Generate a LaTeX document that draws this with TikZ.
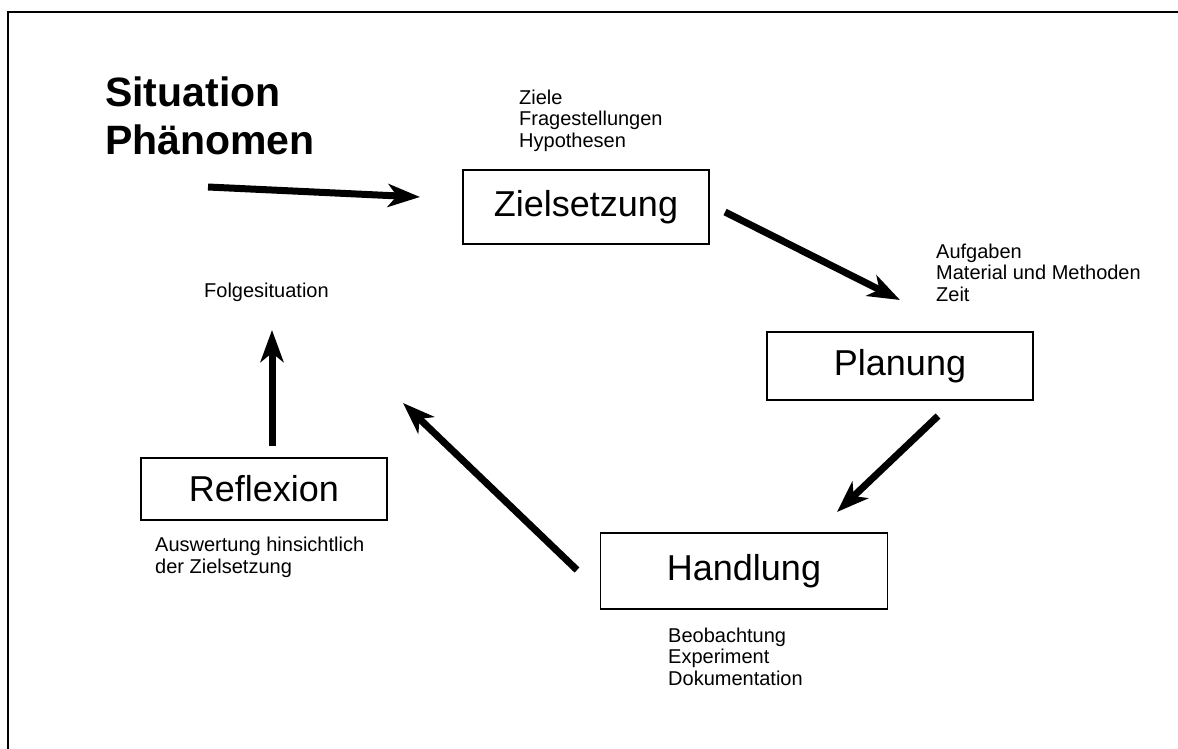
\documentclass[tikz,border=0pt]{standalone}
\usepackage{fontspec}
\setmainfont{Liberation Sans}
\usetikzlibrary{arrows.meta}

\tikzset{
  stufe/.style={draw, line width=1.5pt, inner sep=0pt, font=\fontsize{36}{40}\selectfont},
  notiz/.style={anchor=base west, align=left, inner sep=0pt, font=\fontsize{20}{21.5}\selectfont},
  pfeil/.style={line width=7pt, -{Stealth[length=32pt,width=23pt,inset=9pt]}}
}

\begin{document}
\begin{tikzpicture}[x=1pt,y=-1pt]
                \useasboundingbox (0,0) rectangle (1178,749);
                % Rahmen
                \draw[line width=2pt] (8,749) -- (8,12) -- (1178,12);

                % Ausgangssituation (base = letzte Zeile)
                \node[anchor=base west, align=left, inner sep=0pt,
                      font=\fontsize{41}{48}\selectfont\bfseries] (situation) at (105,155) {Situation\\Phänomen};

                % Stufen
                \node[stufe, minimum width=246pt, minimum height=74pt] (ziel) at (586,207) {Zielsetzung};
                \node[stufe, minimum width=266pt, minimum height=68pt] (plan) at (900,366) {Planung};
                \node[stufe, minimum width=287pt, minimum height=76pt] (hand) at (744,571) {Handlung};
                \node[stufe, minimum width=246pt, minimum height=62pt] (refl) at (264,489) {Reflexion};

                % Notizen
                \node[notiz] (zielnotiz) at (519,147) {Ziele\\Fragestellungen\\Hypothesen};
                \node[notiz] (plannotiz) at (936,301) {Aufgaben\\Material und Methoden\\Zeit};
                \node[notiz] (handnotiz) at (668,685) {Beobachtung\\Experiment\\Dokumentation};
                \node[notiz] (reflnotiz) at (155,573) {Auswertung hinsichtlich\\der Zielsetzung};
                \node[notiz] (folge) at (204,297) {Folgesituation};

                % Pfeile
                \coordinate (a1) at (208,187); \coordinate (b1) at (420,197);
                \coordinate (a2) at (725,212); \coordinate (b2) at (900,300);
                \coordinate (a3) at (938,416); \coordinate (b3) at (837,512);
                \coordinate (a4) at (577,570); \coordinate (b4) at (403,403);
                \coordinate (a5) at (272,446); \coordinate (b5) at (272,330);
                \draw[pfeil] (a1) -- (b1);
                \draw[pfeil] (a2) -- (b2);
                \draw[pfeil] (a3) -- (b3);
                \draw[pfeil] (a4) -- (b4);
                \draw[pfeil] (a5) -- (b5);
            \end{tikzpicture}
\end{document}
